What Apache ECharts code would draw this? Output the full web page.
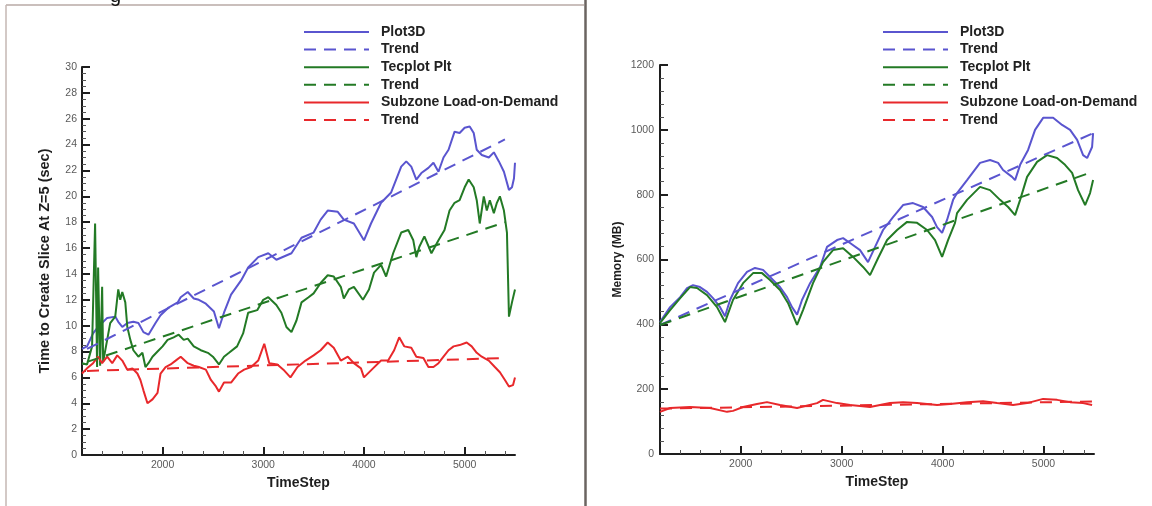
<!DOCTYPE html>
<html>
<head>
<meta charset="utf-8">
<script src="https://cdn.jsdelivr.net/npm/echarts@6/dist/echarts.min.js"></script>
<style>
  html, body { margin: 0; padding: 0; background: #ffffff; }
  #chart { width: 1152px; height: 506px; }
</style>
</head>
<body>
<div id="chart"></div>
<script>
// ---------- Left panel: time to create slice at Z=5 (sec) ----------
const sliceP3dSteps = [1200,1250,1310,1360,1450,1530,1560,1600,1650,1710,1760,1810,1860,1930,1980,2060,2150,2180,2250,2310,2360,2430,2510,2560,2610,2680,2780,2850,2950,3050,3130,3280,3380,3500,3570,3640,3740,3800,3900,4000,4070,4170,4270,4370,4420,4470,4520,4570,4640,4690,4740,4790,4840,4900,4950,5000,5050,5090,5120,5170,5240,5290,5340,5390,5440,5470,5490,5500];
const sliceP3dSec   = [8.2,8.4,9.4,9.9,10.6,10.7,10.3,9.9,10.2,10.3,10.2,9.5,9.3,10.2,10.8,11.4,11.8,12.2,12.6,12.1,12.0,11.7,11.1,9.8,11.0,12.4,13.5,14.5,15.3,15.6,15.1,15.6,16.8,17.2,18.2,18.9,18.8,18.2,17.9,16.6,17.9,19.5,20.3,22.3,22.7,22.3,21.3,21.8,22.2,22.6,21.9,23.0,23.6,25.0,24.9,25.3,25.4,24.9,23.6,23.2,23.0,23.4,22.7,21.9,20.5,20.7,21.4,22.6];

const sliceTecSteps = [1200,1250,1300,1330,1350,1360,1380,1400,1410,1450,1480,1530,1560,1580,1600,1630,1650,1680,1710,1760,1800,1830,1860,1900,1950,2000,2050,2110,2160,2210,2250,2310,2380,2450,2500,2560,2610,2660,2740,2800,2850,2940,3000,3050,3130,3180,3230,3280,3330,3380,3450,3500,3570,3640,3700,3770,3800,3850,3900,3990,4050,4100,4170,4220,4290,4370,4440,4490,4520,4550,4600,4670,4740,4800,4850,4900,4950,5000,5040,5090,5120,5150,5190,5220,5250,5290,5320,5350,5390,5420,5440,5470,5500];
const sliceTecSec   = [7.1,7.0,8.4,17.9,6.8,14.5,6.9,13.0,7.2,8.9,10.2,10.7,12.8,12.0,12.6,11.8,9.9,8.9,8.1,7.6,7.9,6.8,7.1,7.6,8.0,8.4,8.9,9.1,9.3,8.9,9.0,8.4,8.1,7.9,7.6,7.0,7.6,7.9,8.4,9.4,11.0,11.2,12.0,12.2,11.6,11.0,9.9,9.5,10.4,11.8,12.2,12.5,13.3,13.9,13.8,13.0,12.1,12.8,13.0,12.0,12.8,14.1,14.7,13.8,15.6,17.2,17.4,16.6,15.3,16.1,16.9,15.6,16.6,17.4,18.9,19.5,19.7,20.7,21.3,20.7,19.7,17.9,20.0,18.9,19.7,18.7,19.5,20.0,18.9,17.2,10.7,11.8,12.8];

const sliceSubSteps = [1200,1250,1310,1360,1400,1450,1500,1550,1600,1650,1700,1750,1780,1810,1850,1900,1950,1980,2030,2080,2130,2180,2250,2310,2360,2430,2480,2530,2560,2610,2680,2750,2810,2880,2950,3010,3060,3140,3200,3270,3340,3420,3500,3570,3640,3700,3770,3840,3900,3970,4000,4090,4170,4240,4300,4350,4400,4470,4520,4590,4640,4690,4740,4790,4840,4890,4950,5020,5070,5120,5170,5240,5300,5350,5400,5440,5480,5500];
const sliceSubSec   = [6.3,6.7,7.1,7.6,7.1,7.6,7.1,7.7,7.3,6.6,6.7,6.3,5.8,5.0,4.0,4.3,4.8,6.3,6.8,7.0,7.3,7.6,7.1,6.9,6.8,6.6,5.8,5.3,4.9,5.6,5.6,6.3,6.6,6.8,7.3,8.6,7.1,7.0,6.6,6.0,6.8,7.3,7.7,8.1,8.7,8.3,7.3,7.6,7.1,6.7,6.0,6.7,7.3,7.3,8.1,9.1,8.4,8.3,7.6,7.5,6.8,6.8,7.1,7.6,8.1,8.4,8.5,8.7,8.4,7.9,7.6,7.3,6.8,6.4,5.8,5.3,5.4,6.0];

// straight-line trends (start / end)
const sliceP3dTrendSteps = [1250, 5400];
const sliceP3dTrendSec   = [8.2, 24.4];
const sliceTecTrendSteps = [1250, 5400];
const sliceTecTrendSec   = [7.2, 18.0];
const sliceSubTrendSteps = [1250, 5400];
const sliceSubTrendSec   = [6.5, 7.5];

// ---------- Right panel: memory (MB) ----------
const memP3dSteps = [1200,1300,1400,1468,1527,1596,1666,1725,1795,1844,1894,1973,2062,2141,2221,2290,2389,2459,2508,2558,2607,2687,2786,2855,2954,3014,3083,3182,3261,3331,3410,3509,3608,3707,3806,3896,3945,3995,4044,4104,4143,4242,4371,4470,4550,4599,4688,4718,4768,4847,4916,4996,5095,5184,5263,5333,5392,5432,5481,5491];
const memP3dMB    = [407,453,484,512,521,515,500,481,453,425,475,527,562,574,568,546,515,484,453,430,475,527,577,639,660,666,651,629,592,639,691,731,768,774,762,731,700,682,722,784,805,845,898,907,898,876,855,845,892,938,1000,1037,1037,1015,1000,969,922,913,947,990];

const memTecSteps = [1200,1300,1400,1497,1567,1666,1765,1844,1923,2023,2122,2211,2290,2389,2468,2558,2617,2716,2815,2914,3014,3113,3212,3281,3360,3450,3549,3648,3747,3846,3925,3995,4054,4123,4143,4242,4371,4470,4569,4649,4718,4768,4837,4936,5035,5134,5213,5283,5342,5412,5461,5491];
const memTecMB    = [404,444,481,515,512,490,453,407,475,527,558,558,537,506,466,398,444,527,592,629,635,608,577,552,604,660,691,716,713,691,660,608,660,713,743,784,824,814,784,762,737,784,855,901,922,913,892,867,814,768,805,845];

const memSubSteps = [1200,1300,1497,1696,1864,1923,2023,2161,2260,2389,2558,2756,2815,2954,3083,3281,3479,3608,3747,3945,4074,4242,4401,4540,4698,4837,4996,5134,5263,5392,5481];
const memSubMB    = [130,142,145,142,130,133,145,154,160,151,142,157,167,157,151,145,157,160,157,151,154,160,163,157,151,157,170,167,160,157,151];

const memP3dTrendSteps = [1200, 5480];
const memP3dTrendMB    = [398, 988];
const memTecTrendSteps = [1200, 5480];
const memTecTrendMB    = [398, 870];
const memSubTrendSteps = [1200, 5480];
const memSubTrendMB    = [140, 162];

// ---------- axis ticks ----------
const stepMajorTicks = [2000, 3000, 4000, 5000];
const stepMinorTicks = [1400,1600,1800,2200,2400,2600,2800,3200,3400,3600,3800,4200,4400,4600,4800,5200,5400];

const seriesNames = ['Plot3D', 'Plot3D Trend', 'Tecplot Plt', 'Tecplot Trend', 'Subzone Load-on-Demand', 'Subzone Trend'];

const BLUE = '#5a55cf';
const GREEN = '#237a25';
const RED = '#e8282b';
const INK = '#1e1e1e';
const FONT = '"Liberation Sans", Arial, Helvetica, sans-serif';

function pairs(xs, ys) { return xs.map((x, i) => [x, ys[i]]); }
const plainNumber = v => String(v);

function lineSeries(name, color, xs, ys, idx, dashed) {
  return {
    type: 'line', name, xAxisIndex: idx * 2, yAxisIndex: idx,
    data: pairs(xs, ys), symbol: 'none', showSymbol: false,
    lineStyle: { color, width: 2, type: dashed ? [12, 8] : 'solid' },
    itemStyle: { color },
    emphasis: { disabled: true }, silent: true, z: dashed ? 3 : 2
  };
}

function stepAxes(gridIndex) {
  return [{
    type: 'value', gridIndex, min: 1200, max: 5500, position: 'bottom',
    name: 'TimeStep', nameLocation: 'middle', nameGap: 19,
    nameTextStyle: { fontSize: 14, fontWeight: 'bold', color: INK, fontFamily: FONT },
    axisLine: { show: true, onZero: false, lineStyle: { color: INK, width: 2 } },
    axisTick: { show: true, inside: true, length: 8, lineStyle: { color: INK, width: 2 }, customValues: stepMajorTicks },
    axisLabel: { customValues: stepMajorTicks, formatter: plainNumber, color: '#5a5a5a', fontSize: 10.5, fontFamily: FONT, margin: 5 },
    splitLine: { show: false }
  }, {
    type: 'value', gridIndex, min: 1200, max: 5500, position: 'bottom',
    axisLine: { show: false },
    axisTick: { show: true, inside: true, length: 4, lineStyle: { color: '#555', width: 1 }, customValues: stepMinorTicks },
    axisLabel: { show: false },
    splitLine: { show: false }
  }];
}

function valueAxis(gridIndex, max, interval, minorSplit, name, nameSize, nameGap, margin) {
  return {
    type: 'value', gridIndex, min: 0, max, interval,
    name, nameLocation: 'middle', nameGap, nameRotate: 90,
    nameTextStyle: { fontSize: nameSize, fontWeight: 'bold', color: INK, fontFamily: FONT },
    axisLine: { show: true, onZero: false, lineStyle: { color: INK, width: 2 } },
    axisTick: { show: true, inside: true, length: 8, lineStyle: { color: INK, width: 2 } },
    minorTick: { show: true, splitNumber: minorSplit, length: 4, lineStyle: { color: '#555', width: 1 } },
    axisLabel: { formatter: plainNumber, color: '#5a5a5a', fontSize: 10.5, fontFamily: FONT, margin },
    splitLine: { show: false }, minorSplitLine: { show: false }
  };
}

function legendAt(left) {
  return {
    show: true, orient: 'vertical', left, top: 25, padding: 0,
    itemWidth: 65, itemHeight: 14, itemGap: 3.6,
    data: seriesNames,
    formatter: n => (n.endsWith('Trend') ? 'Trend' : n),
    textStyle: { fontSize: 14, fontWeight: 'bold', color: '#222', fontFamily: FONT, lineHeight: 14, padding: [0, 0, 0, 7] },
    itemStyle: { color: 'rgba(0,0,0,0)', borderWidth: 0 },
    selectedMode: false
  };
}

const chart = echarts.init(document.getElementById('chart'), null, { renderer: 'canvas' });

chart.setOption({
  animation: false,
  backgroundColor: '#ffffff',
  grid: [
    { left: 82, top: 67, width: 433, height: 388, outerBoundsMode: 'none' },
    { left: 660, top: 65, width: 434, height: 389, outerBoundsMode: 'none' }
  ],
  xAxis: [...stepAxes(0), ...stepAxes(1)],
  yAxis: [
    valueAxis(0, 30, 2, 4, 'Time to Create Slice At Z=5 (sec)', 14.5, 30, 5),
    valueAxis(1, 1200, 200, 5, 'Memory (MB)', 12, 36, 6)
  ],
  legend: [legendAt(303), legendAt(882)],
  tooltip: { show: false },
  graphic: [
    // panel frame and divider
    { type: 'line', shape: { x1: 6, y1: 5, x2: 584, y2: 5 }, style: { stroke: '#b9aaa6', lineWidth: 1.5 }, silent: true },
    { type: 'line', shape: { x1: 6, y1: 5, x2: 6, y2: 506 }, style: { stroke: '#c4b7b3', lineWidth: 1.5 }, silent: true },
    { type: 'line', shape: { x1: 585.5, y1: 0, x2: 585.5, y2: 506 }, style: { stroke: '#6b6461', lineWidth: 2.5 }, silent: true },
    { type: 'text', left: 110, top: -14, style: { text: 'g', font: '20px ' + FONT, fill: '#111' }, silent: true }
  ],
  series: [
    lineSeries('Plot3D', BLUE, sliceP3dSteps, sliceP3dSec, 0, false),
    lineSeries('Plot3D Trend', BLUE, sliceP3dTrendSteps, sliceP3dTrendSec, 0, true),
    lineSeries('Tecplot Plt', GREEN, sliceTecSteps, sliceTecSec, 0, false),
    lineSeries('Tecplot Trend', GREEN, sliceTecTrendSteps, sliceTecTrendSec, 0, true),
    lineSeries('Subzone Load-on-Demand', RED, sliceSubSteps, sliceSubSec, 0, false),
    lineSeries('Subzone Trend', RED, sliceSubTrendSteps, sliceSubTrendSec, 0, true),

    lineSeries('Plot3D', BLUE, memP3dSteps, memP3dMB, 1, false),
    lineSeries('Plot3D Trend', BLUE, memP3dTrendSteps, memP3dTrendMB, 1, true),
    lineSeries('Tecplot Plt', GREEN, memTecSteps, memTecMB, 1, false),
    lineSeries('Tecplot Trend', GREEN, memTecTrendSteps, memTecTrendMB, 1, true),
    lineSeries('Subzone Load-on-Demand', RED, memSubSteps, memSubMB, 1, false),
    lineSeries('Subzone Trend', RED, memSubTrendSteps, memSubTrendMB, 1, true)
  ]
});
</script>
</body>
</html>
